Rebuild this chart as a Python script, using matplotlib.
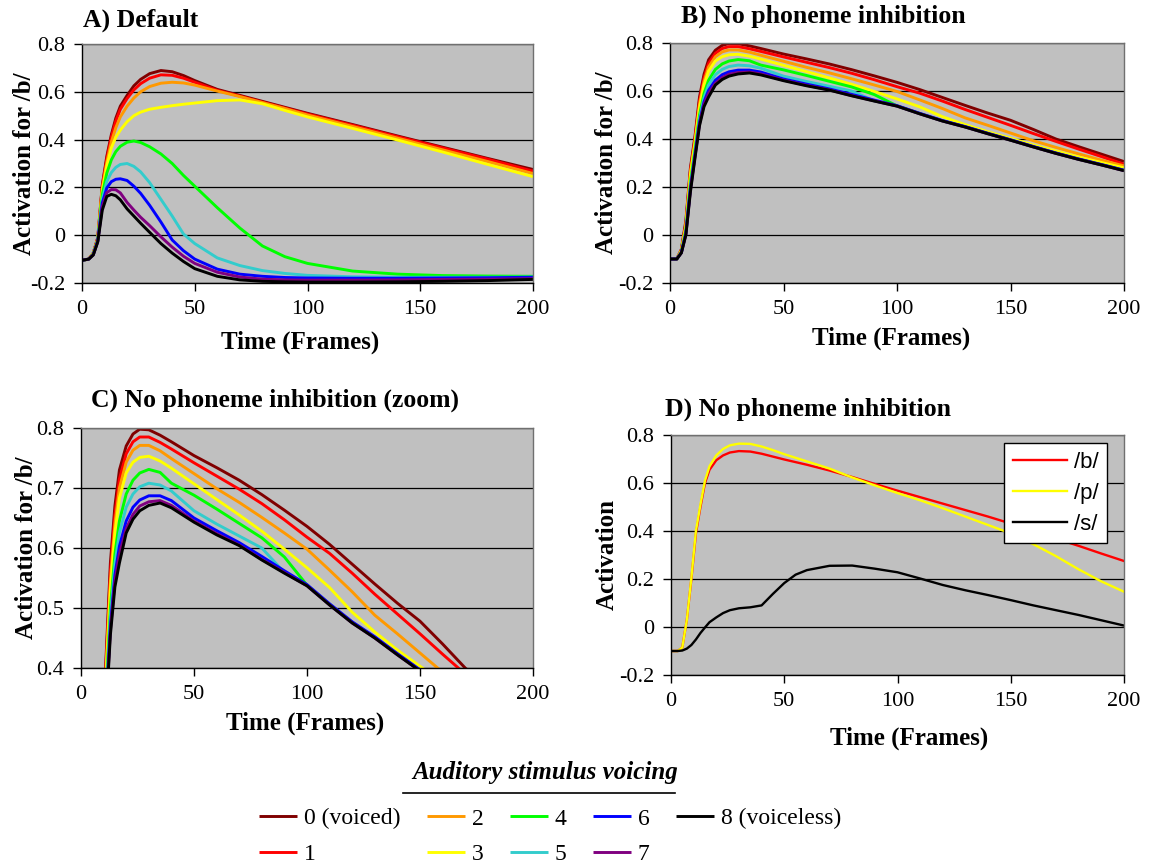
import matplotlib
matplotlib.use("Agg")
import matplotlib.pyplot as plt
from matplotlib.lines import Line2D

plt.rcParams['font.family'] = ['Liberation Serif', 'DejaVu Serif']
plt.rcParams['axes.unicode_minus'] = False

# ---------------- data ----------------
# A) default model, one curve per voicing step 0..8
t_default = [0, 3, 5, 7, 9, 11, 13, 15, 17, 20, 23, 26, 30, 35, 40, 45, 50,
             60, 70, 80, 90, 100, 120, 140, 160, 180, 200]
default_0 = [-0.105, -0.1, -0.075, -0.01, 0.21, 0.33, 0.42, 0.49, 0.54, 0.585, 0.625, 0.652, 0.676, 0.689,
             0.684, 0.668, 0.647, 0.61, 0.585, 0.56, 0.535, 0.51, 0.463, 0.415, 0.368, 0.321, 0.275]
default_1 = [-0.105, -0.1, -0.075, -0.012, 0.205, 0.32, 0.41, 0.478, 0.527, 0.572, 0.608, 0.634, 0.657, 0.671,
             0.669, 0.657, 0.64, 0.606, 0.582, 0.557, 0.532, 0.507, 0.46, 0.412, 0.365, 0.318, 0.268]
default_2 = [-0.105, -0.1, -0.076, -0.015, 0.195, 0.305, 0.39, 0.45, 0.495, 0.54, 0.574, 0.6, 0.622, 0.636,
             0.64, 0.637, 0.628, 0.603, 0.58, 0.555, 0.53, 0.503, 0.455, 0.406, 0.357, 0.308, 0.258]
default_3 = [-0.105, -0.1, -0.077, -0.018, 0.185, 0.29, 0.365, 0.41, 0.44, 0.475, 0.5, 0.515, 0.527, 0.535,
             0.542, 0.548, 0.553, 0.563, 0.566, 0.55, 0.522, 0.495, 0.447, 0.398, 0.348, 0.296, 0.245]
default_4 = [-0.105, -0.1, -0.078, -0.02, 0.17, 0.26, 0.315, 0.35, 0.372, 0.389, 0.394, 0.388, 0.37, 0.34,
             0.30, 0.25, 0.205, 0.115, 0.03, -0.045, -0.09, -0.118, -0.15, -0.163, -0.169, -0.171, -0.172]
default_5 = [-0.105, -0.1, -0.08, -0.022, 0.15, 0.225, 0.262, 0.284, 0.296, 0.30, 0.288, 0.265, 0.22, 0.15,
             0.08, 0.005, -0.035, -0.095, -0.127, -0.148, -0.16, -0.168, -0.174, -0.176, -0.176, -0.176, -0.175]
default_6 = [-0.105, -0.1, -0.081, -0.024, 0.135, 0.198, 0.224, 0.234, 0.236, 0.229, 0.205, 0.175, 0.125, 0.055,
             -0.02, -0.065, -0.1, -0.142, -0.163, -0.172, -0.177, -0.179, -0.18, -0.18, -0.179, -0.178, -0.176]
default_7 = [-0.105, -0.1, -0.082, -0.026, 0.12, 0.178, 0.191, 0.19, 0.177, 0.137, 0.105, 0.075, 0.04, -0.007,
             -0.05, -0.088, -0.118, -0.155, -0.175, -0.184, -0.187, -0.188, -0.188, -0.187, -0.185, -0.184, -0.182]
default_8 = [-0.105, -0.1, -0.083, -0.028, 0.105, 0.162, 0.171, 0.165, 0.148, 0.11, 0.08, 0.05, 0.012, -0.035,
             -0.075, -0.11, -0.14, -0.172, -0.187, -0.193, -0.195, -0.196, -0.196, -0.195, -0.193, -0.19, -0.185]

# B) and C) no phoneme inhibition (C is the same data, zoomed)
t_noinhib = [0, 3, 5, 7, 9, 11, 13, 15, 17, 20, 23, 26, 30, 35, 40, 50, 60, 70, 80, 90, 100,
             110, 120, 130, 140, 150, 160, 170, 180, 190, 200]
noinhib_0 = [-0.1, -0.1, -0.06, 0.06, 0.28, 0.41, 0.575, 0.67, 0.73, 0.77, 0.79, 0.798, 0.797, 0.788, 0.777,
             0.754, 0.734, 0.713, 0.689, 0.663, 0.636, 0.606, 0.573, 0.54, 0.508, 0.478, 0.44, 0.40, 0.368, 0.337, 0.306]
noinhib_1 = [-0.1, -0.1, -0.062, 0.05, 0.27, 0.40, 0.56, 0.655, 0.715, 0.757, 0.777, 0.785, 0.785, 0.776, 0.765,
             0.742, 0.72, 0.698, 0.674, 0.647, 0.618, 0.591, 0.558, 0.523, 0.49, 0.457, 0.423, 0.39, 0.358, 0.327, 0.295]
noinhib_2 = [-0.1, -0.1, -0.064, 0.04, 0.26, 0.39, 0.545, 0.64, 0.70, 0.743, 0.763, 0.771, 0.771, 0.762, 0.749,
             0.724, 0.699, 0.676, 0.651, 0.625, 0.598, 0.563, 0.527, 0.488, 0.457, 0.425, 0.393, 0.365, 0.338, 0.312, 0.288]
noinhib_3 = [-0.1, -0.1, -0.066, 0.035, 0.25, 0.38, 0.53, 0.625, 0.683, 0.725, 0.743, 0.751, 0.753, 0.745, 0.733,
             0.707, 0.681, 0.655, 0.628, 0.598, 0.567, 0.534, 0.493, 0.46, 0.43, 0.403, 0.375, 0.35, 0.325, 0.302, 0.28]
noinhib_4 = [-0.1, -0.1, -0.07, 0.02, 0.22, 0.355, 0.50, 0.59, 0.645, 0.69, 0.713, 0.725, 0.731, 0.726, 0.708,
             0.688, 0.665, 0.641, 0.617, 0.585, 0.538, 0.506, 0.476, 0.451, 0.423, 0.396, 0.368, 0.341, 0.316, 0.293, 0.27]
noinhib_5 = [-0.1, -0.1, -0.072, 0.012, 0.205, 0.343, 0.485, 0.573, 0.625, 0.668, 0.69, 0.702, 0.708, 0.705, 0.695,
             0.662, 0.64, 0.62, 0.60, 0.559, 0.538, 0.506, 0.476, 0.451, 0.423, 0.396, 0.368, 0.341, 0.316, 0.293, 0.269]
noinhib_6 = [-0.1, -0.1, -0.073, 0.006, 0.195, 0.333, 0.47, 0.555, 0.603, 0.645, 0.668, 0.68, 0.687, 0.687, 0.679,
             0.65, 0.629, 0.609, 0.586, 0.562, 0.539, 0.507, 0.477, 0.452, 0.424, 0.397, 0.369, 0.342, 0.317, 0.294, 0.27]
noinhib_7 = [-0.1, -0.1, -0.074, 0.003, 0.188, 0.327, 0.462, 0.545, 0.59, 0.632, 0.656, 0.67, 0.677, 0.679, 0.671,
             0.645, 0.624, 0.605, 0.581, 0.559, 0.537, 0.505, 0.475, 0.45, 0.422, 0.395, 0.367, 0.34, 0.315, 0.292, 0.268]
noinhib_8 = [-0.1, -0.1, -0.075, 0.0, 0.18, 0.32, 0.455, 0.535, 0.575, 0.625, 0.648, 0.662, 0.671, 0.675, 0.667,
             0.643, 0.622, 0.604, 0.58, 0.558, 0.537, 0.505, 0.475, 0.45, 0.422, 0.395, 0.367, 0.34, 0.315, 0.292, 0.268]

# D) no phoneme inhibition, activation of three phonemes
t_phon = [0, 3, 5, 7, 9, 11, 13, 15, 17, 20, 23, 26, 30, 35, 40, 45, 50, 55, 60, 70, 80, 90, 100,
          110, 120, 130, 140, 150, 160, 170, 180, 190, 200]
act_b = [-0.1, -0.1, -0.085, 0.03, 0.2, 0.39, 0.5, 0.6, 0.655, 0.695, 0.715, 0.727, 0.733, 0.731, 0.722, 0.71,
         0.698, 0.687, 0.676, 0.652, 0.625, 0.596, 0.568, 0.541, 0.514, 0.487, 0.46, 0.431, 0.40, 0.368, 0.338, 0.306, 0.275]
act_p = [-0.1, -0.1, -0.085, 0.03, 0.205, 0.40, 0.51, 0.61, 0.67, 0.715, 0.742, 0.757, 0.764, 0.763, 0.752, 0.737,
         0.72, 0.705, 0.69, 0.66, 0.623, 0.59, 0.558, 0.528, 0.495, 0.46, 0.425, 0.39, 0.345, 0.295, 0.24, 0.19, 0.147]
act_s = [-0.1, -0.1, -0.098, -0.09, -0.075, -0.052, -0.025, -0.002, 0.02, 0.04, 0.058, 0.07, 0.078, 0.082, 0.09, 0.138,
         0.183, 0.218, 0.237, 0.255, 0.256, 0.243, 0.228, 0.202, 0.175, 0.153, 0.133, 0.112, 0.09, 0.07, 0.05, 0.028, 0.006]

voicing_labels = ['0 (voiced)', '1', '2', '3', '4', '5', '6', '7', '8 (voiceless)']
voicing_colors = ['#800000', '#FF0000', '#FF9900', '#FFFF00', '#00FF00', '#33CCCC', '#0000FF', '#800080', '#000000']
phon_labels = ['/b/', '/p/', '/s/']
phon_colors = ['#FF0000', '#FFFF00', '#000000']

default_series = [default_0, default_1, default_2, default_3, default_4, default_5, default_6, default_7, default_8]
noinhib_series = [noinhib_0, noinhib_1, noinhib_2, noinhib_3, noinhib_4, noinhib_5, noinhib_6, noinhib_7, noinhib_8]

# ---------------- figure ----------------
W, H = 1150, 868
fig = plt.figure(figsize=(W / 100, H / 100), dpi=100)


def px_axes(x0, y0, x1, y1):
    return fig.add_axes([x0 / W, 1 - y1 / H, (x1 - x0) / W, (y1 - y0) / H])


def style(ax, ylim, yticks, ylabel, ylab_x, xlab_pos):
    ax.set_facecolor('#C0C0C0')
    ax.set_xlim(0, 200)
    ax.set_ylim(*ylim)
    ax.set_xticks([0, 50, 100, 150, 200])
    ax.set_yticks(yticks)
    ax.set_yticklabels(['%g' % v for v in yticks])
    ax.set_axisbelow(True)
    ax.grid(axis='y', color='black', lw=0.9)
    ax.tick_params(direction='out', length=6, width=1, labelsize=16, pad=6, color='black')
    for s in ['left', 'bottom']:
        ax.spines[s].set_color('black')
        ax.spines[s].set_linewidth(1.0)
    for s in ['top', 'right']:
        ax.spines[s].set_color('#707070')
        ax.spines[s].set_linewidth(1.0)
    ax.set_ylabel(ylabel, fontsize=18, fontweight='bold')
    ax.yaxis.label.set_va('center')
    ax.yaxis.set_label_coords(ylab_x, 0.5)
    ax.set_xlabel('Time (Frames)', fontsize=18, fontweight='bold')
    ax.xaxis.label.set_va('center')
    ax.xaxis.set_label_coords(*xlab_pos)


def title(x, y, s):
    fig.text(x / W, 1 - y / H, s, ha='left', va='center', fontsize=18.5, fontweight='bold')


ax_a = px_axes(82, 44, 533, 283)
ax_b = px_axes(670, 43, 1124, 283)
ax_c = px_axes(81, 428, 533, 668)
ax_d = px_axes(671, 435, 1124, 675)

lines_a = []
for vals, col, lab in zip(default_series, voicing_colors, voicing_labels):
    ln, = ax_a.plot(t_default, vals, color=col, lw=2.1, label=lab, solid_capstyle='butt')
    lines_a.append(ln)
for ax in (ax_b, ax_c):
    for vals, col in zip(noinhib_series, voicing_colors):
        ax.plot(t_noinhib, vals, color=col, lw=2.1, solid_capstyle='butt')
for vals, col, lab in zip([act_b, act_p, act_s], phon_colors, phon_labels):
    ax_d.plot(t_phon, vals, color=col, lw=1.7, label=lab)

full_ticks = [-0.2, 0, 0.2, 0.4, 0.6, 0.8]
style(ax_a, (-0.2, 0.8), full_ticks, 'Activation for /b/', -0.128, (0.483, -0.247))
style(ax_b, (-0.2, 0.8), full_ticks, 'Activation for /b/', -0.14, (0.487, -0.229))
style(ax_c, (0.4, 0.8), [0.4, 0.5, 0.6, 0.7, 0.8], 'Activation for /b/', -0.12, (0.495, -0.229))
style(ax_d, (-0.2, 0.8), full_ticks, 'Activation', -0.14, (0.525, -0.2625))

title(83, 20, 'A) Default')
title(681, 16, 'B) No phoneme inhibition')
title(91, 400, 'C) No phoneme inhibition (zoom)')
title(665, 409, 'D) No phoneme inhibition')

leg_d = ax_d.legend(loc='upper left', bbox_to_anchor=(0.736, 0.968), borderaxespad=0,
                    prop={'family': ['Liberation Sans', 'DejaVu Sans'], 'size': 16},
                    handlelength=2.4, handletextpad=0.32, labelspacing=0.45, borderpad=0.4,
                    fancybox=False, framealpha=1, edgecolor='black')
leg_d.get_frame().set_linewidth(1.0)

# bottom legend for the voicing steps
fig.text(545 / W, 1 - 773 / H, 'Auditory stimulus voicing', ha='center', va='center',
         fontsize=18, fontweight='bold', fontstyle='italic')
fig.add_artist(Line2D([403 / W, 675 / W], [1 - 793 / H, 1 - 793 / H], color='black', lw=1.2))
fig.legend(handles=lines_a, labels=voicing_labels, ncol=5, loc='upper left',
           bbox_to_anchor=(259 / W, 1 - 808 / H), frameon=False, fontsize=17,
           handlelength=1.6, handletextpad=0.3, columnspacing=1.12, labelspacing=0.6,
           borderpad=0, borderaxespad=0)

fig.savefig('out.png', dpi=100)
